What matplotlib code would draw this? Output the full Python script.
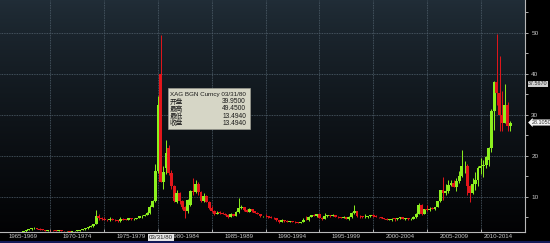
import numpy as np
import matplotlib.pyplot as plt
from matplotlib.patches import Rectangle

plt.rcParams['font.family'] = ['Liberation Sans', 'Noto Sans CJK SC', 'DejaVu Sans']

# quarterly OHLC, XAG BGN Curncy, 1965Q1 .. 2012Q3
start_year = 1965
opens = [
    1.29, 1.29, 1.29, 1.29,   # 1965
    1.29, 1.29, 1.29, 1.29,   # 1966
    1.29, 1.29, 1.55, 1.85,   # 1967
    2.10, 2.25, 2.40, 2.20,   # 1968
    2.00, 1.95, 1.65, 1.85,   # 1969
    1.80, 1.78, 1.68, 1.75,   # 1970
    1.64, 1.55, 1.60, 1.46,   # 1971
    1.55, 1.65, 1.70, 1.85,   # 1972
    2.05, 2.35, 2.55, 2.75,   # 1973
    3.28, 5.20, 4.90, 4.60,   # 1974
    4.40, 4.20, 4.50, 4.40,   # 1975
    4.20, 4.00, 4.60, 4.40,   # 1976
    4.35, 4.75, 4.50, 4.55,   # 1977
    4.85, 5.25, 5.35, 5.60,   # 1978
    5.95, 7.60, 8.90, 16.20,  # 1979
    39.95, 13.50, 17.00, 21.90,  # 1980
    15.80, 12.50, 8.60, 11.00,  # 1981
    8.90, 7.50, 6.40, 8.00,   # 1982
    11.50, 11.10, 13.20, 11.20,  # 1983
    9.00, 10.20, 8.80, 7.30,  # 1984
    6.40, 5.90, 6.10, 6.00,   # 1985
    5.85, 5.60, 5.15, 5.70,   # 1986
    5.40, 6.30, 7.30, 7.50,   # 1987
    6.70, 6.35, 6.90, 6.40,   # 1988
    6.10, 5.80, 5.20, 5.30,   # 1989
    5.25, 4.95, 4.90, 4.70,   # 1990
    4.20, 3.90, 4.30, 4.10,   # 1991
    3.90, 4.05, 3.95, 3.75,   # 1992
    3.70, 3.80, 4.35, 4.20,   # 1993
    5.10, 5.50, 5.30, 5.70,   # 1994
    4.85, 4.60, 5.20, 5.45,   # 1995
    5.20, 5.55, 5.10, 4.95,   # 1996
    4.80, 5.10, 4.65, 5.10,   # 1997
    5.95, 6.40, 5.40, 5.20,   # 1998
    5.00, 5.05, 5.20, 5.45,   # 1999
    5.40, 5.05, 4.95, 4.85,   # 2000
    4.60, 4.35, 4.40, 4.65,   # 2001
    4.60, 4.70, 4.95, 4.55,   # 2002
    4.70, 4.45, 4.55, 5.15,   # 2003
    5.90, 8.10, 5.80, 6.90,   # 2004
    6.85, 7.10, 7.05, 7.45,   # 2005
    8.85, 11.60, 10.80, 11.50,  # 2006
    12.90, 13.30, 12.40, 13.80,  # 2007
    15.00, 17.40, 17.60, 12.50,  # 2008
    10.80, 13.10, 14.00, 16.90,  # 2009
    17.60, 17.80, 19.00, 21.90,  # 2010
    30.80, 38.10, 35.30, 30.00,  # 2011
    28.00, 32.40, 27.30,         # 2012
]
highs = [
    1.29, 1.29, 1.29, 1.29,
    1.29, 1.29, 1.29, 1.29,
    1.29, 1.60, 1.90, 2.17,
    2.35, 2.56, 2.45, 2.30,
    2.05, 2.00, 1.90, 1.95,
    1.90, 1.85, 1.80, 1.80,
    1.70, 1.65, 1.65, 1.58,
    1.70, 1.80, 1.95, 2.10,
    2.40, 2.60, 3.00, 3.30,
    6.70, 5.80, 5.10, 5.00,
    4.60, 5.00, 4.75, 4.50,
    4.30, 5.00, 4.70, 4.60,
    4.90, 4.80, 4.70, 4.90,
    5.40, 5.50, 5.90, 6.30,
    7.90, 9.20, 17.90, 34.50,
    49.45, 17.50, 23.90, 22.50,
    16.50, 12.90, 11.70, 11.20,
    9.20, 7.80, 9.50, 11.60,
    14.60, 14.00, 13.50, 11.50,
    10.90, 10.30, 9.00, 7.80,
    6.70, 6.40, 6.40, 6.20,
    6.10, 5.70, 6.00, 5.80,
    6.40, 9.60, 8.00, 7.60,
    6.90, 7.20, 7.00, 6.60,
    6.20, 5.90, 5.40, 5.70,
    5.30, 5.20, 5.10, 4.80,
    4.20, 4.50, 4.40, 4.20,
    4.15, 4.10, 3.98, 3.85,
    3.80, 4.70, 5.40, 5.20,
    5.60, 5.80, 5.80, 5.75,
    5.00, 6.00, 5.60, 5.60,
    5.80, 5.60, 5.30, 5.00,
    5.40, 5.15, 5.20, 6.30,
    8.00, 6.50, 5.60, 5.30,
    5.70, 5.40, 5.60, 5.70,
    5.50, 5.10, 5.10, 4.90,
    4.70, 4.60, 4.70, 4.70,
    4.75, 5.10, 5.00, 4.80,
    4.80, 4.75, 5.30, 5.95,
    8.50, 8.30, 7.10, 7.90,
    7.50, 7.60, 7.60, 9.00,
    11.70, 14.90, 13.00, 14.00,
    14.00, 14.20, 14.60, 16.20,
    21.30, 18.80, 18.00, 12.90,
    14.50, 16.00, 17.40, 19.40,
    18.90, 19.90, 22.10, 31.30,
    38.20, 49.80, 44.30, 35.70,
    37.50, 33.00, 28.50,
]
lows = [
    1.29, 1.29, 1.29, 1.29,
    1.29, 1.29, 1.29, 1.29,
    1.29, 1.29, 1.50, 1.80,
    2.00, 2.20, 2.10, 1.95,
    1.85, 1.60, 1.60, 1.75,
    1.72, 1.60, 1.65, 1.60,
    1.50, 1.50, 1.42, 1.40,
    1.50, 1.60, 1.65, 1.80,
    1.95, 2.20, 2.50, 2.70,
    3.25, 4.20, 4.30, 4.30,
    4.10, 4.10, 4.20, 4.00,
    3.90, 3.95, 4.20, 4.20,
    4.30, 4.40, 4.40, 4.50,
    4.80, 4.90, 5.20, 5.55,
    5.90, 7.40, 8.70, 15.80,
    13.494, 12.00, 15.50, 15.20,
    11.80, 8.70, 8.40, 8.20,
    7.00, 4.90, 6.00, 7.80,
    10.50, 10.80, 10.50, 8.60,
    8.80, 8.60, 7.00, 6.30,
    5.50, 5.80, 5.90, 5.70,
    5.50, 4.90, 5.00, 5.30,
    5.35, 6.10, 7.00, 6.40,
    6.20, 6.20, 6.20, 6.00,
    5.70, 5.10, 5.00, 5.00,
    4.90, 4.85, 4.60, 4.10,
    3.60, 3.85, 3.90, 3.80,
    3.85, 3.90, 3.70, 3.65,
    3.55, 3.75, 4.20, 4.00,
    5.00, 5.20, 5.10, 4.70,
    4.40, 4.50, 5.10, 5.10,
    5.20, 5.05, 4.90, 4.70,
    4.70, 4.60, 4.25, 4.70,
    5.90, 5.00, 4.90, 4.80,
    4.90, 4.90, 5.10, 5.00,
    5.00, 4.90, 4.80, 4.55,
    4.30, 4.30, 4.10, 4.15,
    4.30, 4.60, 4.50, 4.40,
    4.35, 4.40, 4.55, 4.80,
    5.80, 5.50, 5.70, 6.50,
    6.40, 6.90, 6.80, 7.40,
    8.80, 9.20, 10.50, 11.00,
    12.70, 12.30, 11.50, 13.40,
    14.80, 15.70, 10.40, 8.80,
    10.60, 11.70, 12.50, 15.50,
    14.70, 17.00, 17.50, 21.00,
    26.40, 32.30, 26.00, 26.10,
    27.90, 26.10, 26.10,
]
closes = [
    1.29, 1.29, 1.29, 1.29,
    1.29, 1.29, 1.29, 1.29,
    1.29, 1.55, 1.85, 2.10,
    2.25, 2.40, 2.20, 2.00,
    1.95, 1.65, 1.85, 1.80,
    1.78, 1.68, 1.75, 1.64,
    1.55, 1.60, 1.46, 1.55,
    1.65, 1.70, 1.85, 2.05,
    2.35, 2.55, 2.75, 3.28,
    5.20, 4.90, 4.60, 4.40,
    4.20, 4.50, 4.40, 4.20,
    4.00, 4.60, 4.40, 4.35,
    4.75, 4.50, 4.55, 4.85,
    5.25, 5.35, 5.60, 5.95,
    7.60, 8.90, 16.20, 32.40,
    13.494, 16.00, 20.70, 15.80,
    12.50, 9.00, 11.00, 8.90,
    7.50, 6.40, 9.30, 11.30,
    11.10, 13.20, 11.20, 9.00,
    10.20, 8.80, 7.30, 6.40,
    5.90, 6.10, 6.00, 5.85,
    5.60, 5.15, 5.70, 5.40,
    6.30, 7.30, 7.50, 6.70,
    6.35, 6.90, 6.40, 6.10,
    5.80, 5.20, 5.30, 5.25,
    4.95, 4.90, 4.70, 4.20,
    3.90, 4.30, 4.10, 3.90,
    4.05, 3.95, 3.75, 3.70,
    3.80, 4.35, 4.20, 5.10,
    5.50, 5.30, 5.70, 4.85,
    4.60, 5.20, 5.45, 5.20,
    5.55, 5.10, 4.95, 4.80,
    5.10, 4.65, 5.10, 5.95,
    6.40, 5.40, 5.20, 5.00,
    5.05, 5.20, 5.45, 5.40,
    5.05, 4.95, 4.85, 4.60,
    4.35, 4.40, 4.65, 4.60,
    4.70, 4.95, 4.55, 4.70,
    4.45, 4.55, 5.15, 5.90,
    8.10, 5.80, 6.90, 6.85,
    7.10, 7.05, 7.45, 8.85,
    11.60, 10.80, 11.50, 12.90,
    13.30, 12.40, 13.80, 15.00,
    17.40, 17.60, 12.50, 10.80,
    13.10, 14.00, 16.90, 17.60,
    17.80, 19.80, 21.90, 30.80,
    38.10, 35.30, 30.00, 28.00,
    32.40, 27.30, 28.105,
]

period_starts = [1965, 1970, 1975, 1980, 1985, 1990, 1995, 2000, 2005, 2010]
period_labels = ['1965-1969', '1970-1974', '1975-1979', '1980-1984', '1985-1989',
                 '1990-1994', '1995-1999', '2000-2004', '2005-2009', '2010-2014']
y_ticks = [10, 20, 30, 40, 50]

tip_title = 'XAG BGN Curncy 03/31/80'
tip_names = ['开盘', '最高', '最低', '收盘']
tip_values = ['39.9500', '49.4500', '13.4940', '13.4940']
cursor_date = '03/31/80'
cursor_x = 1980.25
marker_a = 37.5670
marker_b = 28.1050

# candles sit on the quarter end date
n = len(closes)
qx = np.array([start_year + (i + 1) / 4 for i in range(n)])
o = np.array(opens); h = np.array(highs); l = np.array(lows); c = np.array(closes)

W, H = 550, 243
fig = plt.figure(figsize=(W / 100, H / 100), dpi=100, facecolor='black')
ax = fig.add_axes([0, 11 / H, 525 / W, 232 / H])
xmin, xmax = 1965.31, 2014.12
ymin, ymax = 1.39, 58.0

# dark slate gradient background
t = np.linspace(0, 1, 256)[:, None] ** 0.8
top = np.array([0.130, 0.180, 0.220])
bot = np.array([0.008, 0.010, 0.016])
grad = top[None, None, :] * (1 - t[..., None]) + bot[None, None, :] * t[..., None]
ax.imshow(grad, extent=[xmin, xmax, ymin, ymax], aspect='auto', zorder=0)

for v in y_ticks:
    ax.axhline(v, color='#52626e', lw=0.6, ls=(0, (1, 1)), zorder=1)
for s in period_starts[1:]:
    ax.axvline(s, color='#52626e', lw=0.6, ls=(0, (1, 1)), zorder=1)

green = '#8cf01e'
red = '#e3161b'
up = c >= o
cols = np.where(up, green, red)
ax.vlines(qx, l, h, colors=cols, lw=0.7, zorder=2)
ax.bar(qx, np.maximum(np.abs(c - o), 0.15), bottom=np.minimum(o, c), width=0.27,
       color=cols, lw=0, zorder=3)

ax.set_xlim(xmin, xmax)
ax.set_ylim(ymin, ymax)

for side in ['left', 'top']:
    ax.spines[side].set_visible(False)
for side in ['right', 'bottom']:
    ax.spines[side].set_color('#b8b8b8')
    ax.spines[side].set_linewidth(0.8)

ax.yaxis.tick_right()
ax.set_yticks(y_ticks)
ax.set_yticklabels([str(v) for v in y_ticks])
ax.set_yticks([v + 5 for v in [0] + y_ticks], minor=True)
ax.tick_params(axis='y', which='both', colors='#c8c8c8', labelsize=4.6,
               length=2.5, width=0.6, pad=2)

ax.set_xticks(period_starts[1:])
ax.set_xticklabels([])
ax.tick_params(axis='x', which='major', direction='in', length=2, width=0.6,
               colors='#c8c8c8')
label_x = [s + 2.5 for s in period_starts]
label_x[-1] = 2011.6
ax.set_xticks(label_x, minor=True)
ax.set_xticklabels(period_labels, minor=True)
ax.tick_params(axis='x', which='minor', length=0, labelsize=4.4,
               colors='#c8c8c8', pad=1.2)

# highlighted cursor date on the axis
ax.text(cursor_x, -0.024, cursor_date, transform=ax.get_xaxis_transform(),
        ha='center', va='center', fontsize=4.4, color='#202020', zorder=10,
        bbox=dict(boxstyle='square,pad=0.15', fc='#e6e6e6', ec='none'))

# price markers on the right axis
ax.text(1.006, marker_a, f'{marker_a:.4f}', transform=ax.get_yaxis_transform(),
        ha='left', va='center', fontsize=3.9, color='#303030', clip_on=False,
        bbox=dict(boxstyle='square,pad=0.12', fc='#cfcfcf', ec='none'))
ax.text(1.012, marker_b, f'{marker_b:.4f}', transform=ax.get_yaxis_transform(),
        ha='left', va='center', fontsize=3.9, color='#303030', clip_on=False,
        bbox=dict(boxstyle='larrow,pad=0.1', fc='#f4f4f4', ec='none'))

# tooltip
bx0, bx1, by0, by1 = 168, 250, 88, 129
fig.add_artist(Rectangle((bx0 / W, 1 - by1 / H), (bx1 - bx0) / W, (by1 - by0) / H,
                         transform=fig.transFigure, fc='#d6d6c6', ec='#9a9a90',
                         lw=0.5, zorder=20))
rows = [94, 101.5, 108.8, 116, 123.3]
fig.text(170 / W, 1 - rows[0] / H, tip_title, ha='left', va='center',
         fontsize=4.5, color='#1a1a1a', zorder=21)
for r, name, val in zip(rows[1:], tip_names, tip_values):
    fig.text(170 / W, 1 - r / H, name, ha='left', va='center', fontsize=4.8,
             color='#1a1a1a', zorder=21, family=['Noto Sans CJK SC', 'DejaVu Sans'])
    fig.text(246 / W, 1 - r / H, val, ha='right', va='center', fontsize=4.8,
             color='#1a1a1a', zorder=21)

# navy strip at the very bottom
fig.add_artist(Rectangle((0, 0), 1, 2.5 / H, transform=fig.transFigure,
                         fc='#141a58', ec='none', zorder=0))

fig.savefig('out.png', dpi=100, facecolor='black')
